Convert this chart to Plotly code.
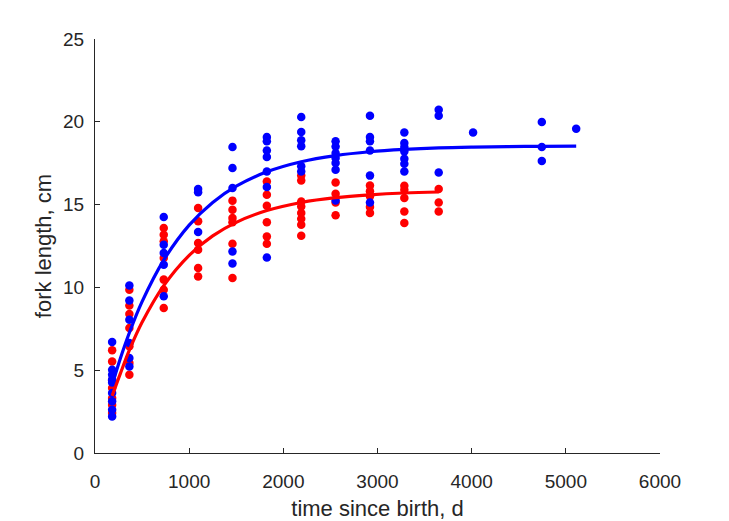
import plotly.graph_objects as go

# sampling ages (days since birth)
ages = [182, 365, 730, 1095, 1460, 1825, 2190, 2555, 2920, 3285, 3650, 4015, 4745, 5110]

# blue series: fork length (cm) per age
blue_lengths = [
    [6.7, 5.03, 4.73, 4.43, 4.26, 3.62, 3.12, 2.61, 2.21],
    [10.12, 9.21, 8.05, 6.64, 5.74, 5.23],
    [14.25, 12.58, 12.08, 11.37, 9.46],
    [15.94, 15.74, 13.35],
    [18.48, 17.21, 16.0, 12.17, 11.45],
    [19.08, 18.82, 18.27, 17.87, 17.0, 16.06, 11.81],
    [20.29, 19.38, 18.88, 18.52, 17.31, 17.0],
    [18.82, 18.51, 18.12, 17.81, 17.51, 17.11, 15.25],
    [20.37, 19.08, 18.82, 18.27, 16.75, 15.13],
    [19.36, 18.72, 18.48, 18.21, 17.77, 17.47, 17.0],
    [20.73, 20.37, 16.94],
    [19.36],
    [19.99, 18.48, 17.63],
    [19.58],
]

# red series: fork length (cm) per age (no samples after 3650 d)
red_lengths = [
    [6.2, 5.53, 4.4, 3.92, 3.32, 2.9, 2.42],
    [9.86, 8.91, 8.39, 7.55, 6.44, 5.43, 4.73],
    [13.59, 13.18, 12.78, 11.78, 10.47, 9.86, 8.76],
    [14.79, 13.99, 12.68, 12.28, 11.17, 10.66],
    [15.24, 14.69, 14.19, 13.93, 12.64, 10.57],
    [16.4, 15.6, 14.93, 13.93, 13.08, 12.64],
    [16.76, 16.46, 15.19, 14.89, 14.49, 14.15, 13.79, 13.12],
    [16.34, 15.66, 15.13, 14.35],
    [16.15, 15.8, 15.5, 14.85, 14.5],
    [16.14, 15.9, 15.4, 14.59, 13.89],
    [15.94, 15.13, 14.59],
    [], [], [],
]

# growth curves
curve_t = [182, 270, 365, 500, 730, 1000, 1250, 1500, 1825, 2190, 2555, 2920,
           3285, 3650, 4015, 4380, 4745, 5110]
blue_curve = [4.10, 5.72, 7.26, 9.14, 11.65, 13.76, 15.13, 16.11, 16.98, 17.59,
              17.96, 18.19, 18.33, 18.42, 18.47, 18.50, 18.52, 18.53]
red_curve = [3.45, 4.81, 6.21, 7.89, 10.11, 11.94, 13.11, 13.93, 14.64, 15.13,
             15.42, 15.59, 15.70, 15.76]

x_ticks = [0, 1000, 2000, 3000, 4000, 5000, 6000]
y_ticks = [0, 5, 10, 15, 20, 25]


def flatten(lengths):
    xs, ys = [], []
    for a, vals in zip(ages, lengths):
        for v in vals:
            xs.append(a)
            ys.append(v)
    return xs, ys


rx, ry = flatten(red_lengths)
bx, by = flatten(blue_lengths)

RED = "#ff0000"
BLUE = "#0000ff"
AX = "#262626"
FONT = "Liberation Sans, Arial, sans-serif"

fig = go.Figure()
fig.add_trace(go.Scatter(x=rx, y=ry, mode="markers",
                         marker=dict(color=RED, size=8.5, line=dict(width=0)),
                         showlegend=False))
fig.add_trace(go.Scatter(x=bx, y=by, mode="markers",
                         marker=dict(color=BLUE, size=8.5, line=dict(width=0)),
                         showlegend=False))
fig.add_trace(go.Scatter(x=curve_t[:len(red_curve)], y=red_curve, mode="lines",
                         line=dict(color=RED, width=3.2, shape="spline"),
                         showlegend=False))
fig.add_trace(go.Scatter(x=curve_t, y=blue_curve, mode="lines",
                         line=dict(color=BLUE, width=3.2, shape="spline"),
                         showlegend=False))

axis_common = dict(
    showgrid=False, zeroline=False, showline=True, linecolor=AX, linewidth=1,
    ticks="inside", ticklen=5, tickwidth=1, tickcolor=AX,
    tickfont=dict(family=FONT, size=19, color=AX),
    mirror=False, automargin=False,
)

fig.update_layout(
    width=729, height=521,
    paper_bgcolor="white", plot_bgcolor="white",
    margin=dict(l=95, r=69, t=39, b=68),
    font=dict(family=FONT, color=AX),
    xaxis=dict(range=[0, 6000], tickvals=x_ticks, ticktext=[str(v) for v in x_ticks],
               title=dict(text="time since birth, d", font=dict(family=FONT, size=22, color=AX),
                          standoff=10),
               ticklabelstandoff=11,
               **axis_common),
    yaxis=dict(range=[0, 25], tickvals=y_ticks, ticktext=[str(v) for v in y_ticks],
               title=dict(text="fork length, cm", font=dict(family=FONT, size=22, color=AX),
                          standoff=5),
               ticklabelstandoff=6,
               **axis_common),
)

fig.write_html("out.html")
